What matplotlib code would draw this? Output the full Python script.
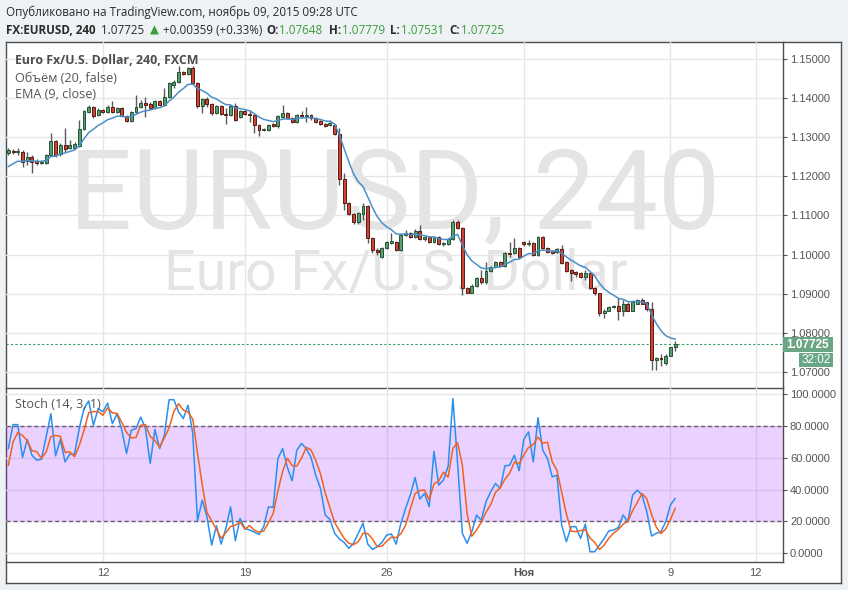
import numpy as np
import pandas as pd
import matplotlib
matplotlib.use("Agg")
import matplotlib.pyplot as plt
from matplotlib.patches import Rectangle

plt.rcParams['font.family'] = ['Liberation Sans', 'DejaVu Sans']

W, H = 848, 590

# 4h candles, FX:EURUSD
opens = [1.1259, 1.1264, 1.1262, 1.1262, 1.1239, 1.1249, 1.1239, 1.1234, 1.1234, 1.1254,
         1.1290, 1.1257, 1.1280, 1.1272, 1.1272, 1.1277, 1.1321, 1.1364, 1.1377, 1.1357,
         1.1369, 1.1364, 1.1377, 1.1364, 1.1375, 1.1354, 1.1341, 1.1364, 1.1377, 1.1387,
         1.1385, 1.1375, 1.1392, 1.1382, 1.1403, 1.1433, 1.1441, 1.1467, 1.1462, 1.1477,
         1.1439, 1.1380, 1.1398, 1.1385, 1.1362, 1.1380, 1.1359, 1.1357, 1.1380, 1.1351,
         1.1367, 1.1359, 1.1357, 1.1331, 1.1318, 1.1318, 1.1334, 1.1328, 1.1351, 1.1362,
         1.1349, 1.1339, 1.1357, 1.1354, 1.1357, 1.1349, 1.1341, 1.1334, 1.1331, 1.1331,
         1.1308, 1.1193, 1.1131, 1.1103, 1.1083, 1.1103, 1.1124, 1.1042, 1.1011, 1.0993,
         1.1016, 1.1029, 1.1031, 1.1011, 1.1049, 1.1054, 1.1044, 1.1060, 1.1039, 1.1044,
         1.1031, 1.1044, 1.1026, 1.1026, 1.1039, 1.1083, 1.1067, 1.0914, 1.0903, 1.0919,
         1.0939, 1.0929, 1.0957, 1.0968, 1.0980, 1.0970, 1.1003, 1.1003, 1.1016, 1.1031,
         1.1026, 1.1029, 1.0998, 1.1044, 1.1016, 1.1008, 1.1006, 1.1014, 1.0980, 1.0960,
         1.0955, 1.0952, 1.0942, 1.0952, 1.0914, 1.0901, 1.0850, 1.0857, 1.0865, 1.0868,
         1.0857, 1.0875, 1.0857, 1.0875, 1.0883, 1.0878, 1.0860, 1.0730, 1.0735, 1.0722,
         1.0742, 1.07648]
highs = [1.1272, 1.1270, 1.1272, 1.1267, 1.1262, 1.1254, 1.1244, 1.1241, 1.1257, 1.1311,
         1.1293, 1.1285, 1.1323, 1.1293, 1.1287, 1.1344, 1.1369, 1.1382, 1.1380, 1.1375,
         1.1372, 1.1382, 1.1392, 1.1377, 1.1377, 1.1357, 1.1367, 1.1408, 1.1395, 1.1403,
         1.1390, 1.1395, 1.1395, 1.1426, 1.1441, 1.1446, 1.1482, 1.1469, 1.1479, 1.1482,
         1.1441, 1.1400, 1.1403, 1.1387, 1.1382, 1.1382, 1.1375, 1.1382, 1.1387, 1.1369,
         1.1369, 1.1369, 1.1359, 1.1334, 1.1323, 1.1334, 1.1336, 1.1357, 1.1382, 1.1364,
         1.1351, 1.1359, 1.1367, 1.1377, 1.1359, 1.1351, 1.1344, 1.1336, 1.1344, 1.1334,
         1.1323, 1.1208, 1.1134, 1.1106, 1.1108, 1.1131, 1.1126, 1.1044, 1.1016, 1.1019,
         1.1034, 1.1054, 1.1034, 1.1052, 1.1062, 1.1057, 1.1065, 1.1075, 1.1047, 1.1047,
         1.1047, 1.1047, 1.1031, 1.1042, 1.1088, 1.1088, 1.1070, 1.0916, 1.0924, 1.0942,
         1.0960, 1.0980, 1.0970, 1.0983, 1.0983, 1.1006, 1.1031, 1.1042, 1.1019, 1.1034,
         1.1037, 1.1031, 1.1047, 1.1047, 1.1019, 1.1011, 1.1016, 1.1024, 1.0983, 1.0962,
         1.0957, 1.0955, 1.0960, 1.0955, 1.0916, 1.0903, 1.0860, 1.0868, 1.0870, 1.0888,
         1.0883, 1.0880, 1.0883, 1.0886, 1.0888, 1.0880, 1.0880, 1.0737, 1.0747, 1.0745,
         1.0765, 1.07779]
lows = [1.1254, 1.1257, 1.1254, 1.1223, 1.1229, 1.1208, 1.1229, 1.1231, 1.1231, 1.1252,
        1.1249, 1.1252, 1.1262, 1.1270, 1.1270, 1.1275, 1.1318, 1.1362, 1.1349, 1.1354,
        1.1362, 1.1362, 1.1362, 1.1362, 1.1351, 1.1339, 1.1339, 1.1362, 1.1375, 1.1351,
        1.1372, 1.1372, 1.1380, 1.1380, 1.1400, 1.1426, 1.1439, 1.1459, 1.1459, 1.1436,
        1.1375, 1.1362, 1.1377, 1.1357, 1.1359, 1.1357, 1.1334, 1.1354, 1.1341, 1.1349,
        1.1357, 1.1339, 1.1311, 1.1303, 1.1316, 1.1316, 1.1326, 1.1323, 1.1349, 1.1346,
        1.1336, 1.1336, 1.1351, 1.1339, 1.1344, 1.1336, 1.1331, 1.1326, 1.1328, 1.1305,
        1.1177, 1.1113, 1.1101, 1.1078, 1.1078, 1.1088, 1.1029, 1.1003, 1.0998, 1.0991,
        1.1014, 1.1026, 1.1008, 1.1008, 1.1047, 1.1042, 1.1042, 1.1037, 1.1034, 1.1029,
        1.1029, 1.1024, 1.1021, 1.1024, 1.1037, 1.1065, 1.0896, 1.0901, 1.0901, 1.0916,
        1.0924, 1.0926, 1.0955, 1.0965, 1.0968, 1.0968, 1.0993, 1.1001, 1.0991, 1.1021,
        1.1021, 1.0996, 1.0996, 1.1014, 1.1003, 1.1001, 1.1003, 1.0975, 1.0955, 1.0932,
        1.0944, 1.0939, 1.0934, 1.0911, 1.0898, 1.0842, 1.0839, 1.0855, 1.0863, 1.0832,
        1.0842, 1.0855, 1.0855, 1.0873, 1.0873, 1.0857, 1.0706, 1.0704, 1.0714, 1.0719,
        1.0740, 1.07531]
closes = [1.1267, 1.1262, 1.1264, 1.1236, 1.1249, 1.1236, 1.1234, 1.1236, 1.1254, 1.1290,
          1.1254, 1.1280, 1.1270, 1.1280, 1.1282, 1.1321, 1.1367, 1.1377, 1.1354, 1.1369,
          1.1364, 1.1377, 1.1364, 1.1375, 1.1354, 1.1341, 1.1364, 1.1377, 1.1387, 1.1382,
          1.1375, 1.1392, 1.1382, 1.1403, 1.1439, 1.1441, 1.1467, 1.1462, 1.1477, 1.1439,
          1.1380, 1.1398, 1.1385, 1.1362, 1.1380, 1.1359, 1.1357, 1.1380, 1.1344, 1.1367,
          1.1359, 1.1357, 1.1331, 1.1318, 1.1321, 1.1331, 1.1328, 1.1354, 1.1362, 1.1349,
          1.1339, 1.1357, 1.1354, 1.1357, 1.1349, 1.1339, 1.1334, 1.1328, 1.1336, 1.1308,
          1.1193, 1.1131, 1.1103, 1.1083, 1.1106, 1.1124, 1.1042, 1.1011, 1.1006, 1.1016,
          1.1031, 1.1034, 1.1011, 1.1049, 1.1054, 1.1044, 1.1060, 1.1039, 1.1044, 1.1031,
          1.1044, 1.1026, 1.1029, 1.1039, 1.1083, 1.1067, 1.0914, 1.0903, 1.0921, 1.0939,
          1.0929, 1.0957, 1.0968, 1.0980, 1.0970, 1.1003, 1.1001, 1.1016, 1.0993, 1.1026,
          1.1029, 1.0998, 1.1044, 1.1016, 1.1006, 1.1003, 1.1014, 1.0978, 1.0957, 1.0952,
          1.0950, 1.0942, 1.0952, 1.0914, 1.0901, 1.0850, 1.0857, 1.0865, 1.0868, 1.0857,
          1.0875, 1.0857, 1.0878, 1.0883, 1.0875, 1.0860, 1.0730, 1.0735, 1.0732, 1.0742,
          1.0763, 1.07725]
ema_start = 1.1225   # EMA(9) value at the first visible bar

# Stoch %K (blue), %D starts (orange)
stoch_k = [65.8, 80.9, 80.9, 60.2, 71.5, 61.6, 58.5, 59.1, 73.2, 87.8,
           61.2, 71.5, 57.4, 62.3, 62.3, 78.4, 91.0, 95.8, 80.5, 91.0,
           88.9, 94.5, 81.5, 87.8, 77.4, 62.7, 77.4, 78.4, 85.7, 78.4,
           56.4, 77.8, 65.8, 74.2, 96.6, 96.6, 88.9, 84.7, 93.1, 75.3,
           20.3, 33.3, 22.8, 5.0, 17.2, 5.6, 15.5, 29.1, 7.8, 21.8,
           15.5, 14.5, 13.2, 11.7, 16.6, 29.1, 28.7, 59.5, 65.8, 54.0,
           45.5, 64.8, 69.0, 65.8, 60.2, 49.0, 40.7, 23.9, 21.2, 12.4,
           8.8, 6.7, 2.9, 6.1, 12.4, 18.7, 5.6, 2.3, 4.0, 6.7,
           11.3, 12.0, 5.6, 18.7, 28.1, 36.5, 47.6, 34.0, 37.5, 29.1,
           64.1, 42.8, 45.9, 54.7, 97.3, 56.4, 12.4, 6.1, 13.4, 23.9,
           20.7, 32.3, 38.6, 43.8, 40.7, 54.9, 55.3, 61.6, 51.8, 71.7,
           76.3, 57.4, 85.3, 64.8, 59.5, 48.0, 49.0, 17.6, 7.1, 16.6,
           16.6, 9.2, 18.2, 0.8, 0.8, 5.0, 9.2, 14.0, 14.5, 16.1,
           23.9, 19.7, 36.5, 39.6, 36.5, 26.0, 10.7, 12.4, 13.4, 19.7,
           30.2, 34.4]
stoch_d_start = [55.3, 70.0]

tick_pos = [20, 50, 80, 109, 140, 158]
tick_lab = ["12", "19", "26", "Ноя", "9", "12"]
price_ticks = [1.07, 1.08, 1.09, 1.10, 1.11, 1.12, 1.13, 1.14, 1.15]
stoch_ticks = [0, 20, 40, 60, 80, 100]
last_price = 1.07725
countdown = "32:02"

o = np.array(opens); h = np.array(highs); l = np.array(lows); c = np.array(closes)
x = np.arange(len(c))

ema = np.zeros(len(c))
ema[0] = ema_start
a = 2 / 10
for i in range(1, len(c)):
    ema[i] = a * c[i] + (1 - a) * ema[i - 1]

k = pd.Series(stoch_k)
d = k.rolling(3).mean().values
d[0], d[1] = stoch_d_start

def fx(px): return px / W
def fy(py): return 1 - py / H

fig = plt.figure(figsize=(W / 100, H / 100), dpi=100)
fig.patch.set_facecolor('#eef2f5')
rend = fig.canvas.get_renderer()

def width_px(t):
    return t.get_window_extent(rend).width

def fit(t, target):
    # scale a text's font size so that it spans target pixels
    t.set_fontsize(t.get_fontsize() * target / width_px(t))
    return t.get_fontsize()

frame = fig.add_axes([fx(6), fy(583), (841 - 6) / W, (583 - 42) / H])
frame.set_facecolor('white')
frame.set_xticks([]); frame.set_yticks([])
for s in frame.spines.values():
    s.set_color('#4d4d4d'); s.set_linewidth(1)

ax1 = fig.add_axes([fx(6), fy(388), 777 / W, 346 / H])
ax2 = fig.add_axes([fx(6), fy(562), 777 / W, 174 / H])
gray = '#555555'
for ax in (ax1, ax2):
    ax.set_facecolor('none')
    ax.set_xlim(-0.49, 163.8)
    ax.set_axisbelow(True)
    ax.grid(True, color='#e6e6e6', lw=1)
    for s in ('left', 'top'):
        ax.spines[s].set_visible(False)
    for s in ('right', 'bottom'):
        ax.spines[s].set_color('#4d4d4d'); ax.spines[s].set_linewidth(1)
    ax.yaxis.tick_right()
    ax.tick_params(axis='y', direction='out', length=3, width=0.8, colors=gray,
                   labelsize=8, pad=2)
    ax.set_xticks(tick_pos)

# price panel
ax1.set_ylim(1.0659, 1.15435)
ax1.set_yticks(price_ticks)
ax1.set_yticklabels(["%.5f" % v for v in price_ticks])
ax1.tick_params(axis='x', length=0, labelbottom=False)

ax1.text(fx(395), fy(229), "EURUSD, 240", transform=fig.transFigure, ha='center',
         va='baseline', fontsize=80, family='Roboto', color='#e4e4e4', zorder=0.2)
ax1.text(fx(396), fy(290), "Euro Fx/U.S. Dollar", transform=fig.transFigure, ha='center',
         va='baseline', fontsize=40, family='Roboto', color='#e4e4e4', zorder=0.2)

up = c >= o
body_lo = np.minimum(o, c)
body_h = np.maximum(np.abs(c - o), 0.00006)
fill = np.where(up, '#5a9e6f', '#cc4433')
edge = np.where(up, '#225437', '#5b1a13')
ax1.vlines(x, l, h, color='#5a5a5a', lw=1, zorder=3)
ax1.bar(x, body_h, bottom=body_lo, width=0.62, color=fill, edgecolor=edge,
        linewidth=0.7, zorder=4)
ax1.plot(x, ema, color='#4a90c8', lw=1.1, zorder=5)
ax1.axhline(last_price, color='#2e9a5e', ls=(0, (2, 2)), lw=0.8, zorder=2)

t = ax1.text(fx(15), fy(61), "Euro Fx/U.S. Dollar, 240, FXCM", transform=fig.transFigure,
             va='center', fontsize=9, fontweight='bold', family='Open Sans',
             color='#4d4d4d', zorder=6)
fit(t, 184)
t = ax1.text(fx(15), fy(78), "Объём (20, false)", transform=fig.transFigure,
             va='center', fontsize=9, family='Open Sans', color='#555555', zorder=6)
leg_size = fit(t, 102)
ax1.text(fx(15), fy(95), "EMA (9, close)", transform=fig.transFigure,
         va='center', fontsize=leg_size, family='Open Sans', color='#555555', zorder=6)

# stoch panel
ax2.set_ylim(-5.67, 103.97)
ax2.set_yticks(stoch_ticks)
ax2.set_yticklabels(["%.4f" % v for v in stoch_ticks])
ax2.axhspan(20, 80, facecolor=(0.6, 0.1, 1.0, 0.2), edgecolor='none', zorder=1)
for lvl in (20, 80):
    ax2.axhline(lvl, color='#6a5a78', ls=(0, (3, 2)), lw=1, zorder=2)
ax2.plot(x, k, color='#2a8fef', lw=1.1, zorder=4)
ax2.plot(x, d, color='#f0621e', lw=1.1, zorder=5)
ax2.set_xticklabels(tick_lab)
ax2.tick_params(axis='x', length=0, colors=gray, labelsize=8, pad=4)
for tl in ax2.get_xticklabels():
    if tl.get_text() == "Ноя":
        tl.set_fontweight('bold')
ax2.text(fx(15), fy(405), "Stoch (14, 3, 1)", transform=fig.transFigure,
         va='center', fontsize=leg_size, family='Open Sans', color='#555555', zorder=6)

# last price and countdown labels
fig.patches.append(Rectangle((fx(783), fy(352)), 50 / W, 15 / H, transform=fig.transFigure,
                             facecolor='#6aa584', edgecolor='none', zorder=5))
fig.patches.append(Rectangle((fx(799), fy(367)), 34 / W, 14 / H, transform=fig.transFigure,
                             facecolor='#6aa584', edgecolor='none', zorder=5))
fig.text(fx(808), fy(344.5), "%.5f" % last_price, ha='center', va='center',
         color='white', fontsize=8.5, fontweight='bold', zorder=6)
fig.text(fx(816), fy(360), countdown, ha='center', va='center',
         color='white', fontsize=8.5, zorder=6)

# header
dark = '#2a2a2a'
green = '#3a9e3a'
t = fig.text(fx(6), fy(12.5), "Опубликовано на TradingView.com, ноябрь 09, 2015 09:28 UTC",
             va='center', fontsize=9, family='Open Sans', color=dark)
fit(t, 351)

# second header line: pieces placed one after another, gap after each piece in px
parts = [("FX:EURUSD, 240", 'bold', dark, 6), ("1.07725", 'normal', dark, 5),
         ("▲", 'normal', green, 4), ("+0.00359 (+0.33%)", 'normal', dark, 4),
         ("O:", 'bold', dark, 1), ("1.07648", 'normal', green, 6),
         ("H:", 'bold', dark, 1), ("1.07779", 'normal', green, 5),
         ("L:", 'bold', dark, 1), ("1.07531", 'normal', green, 6),
         ("C:", 'bold', dark, 1), ("1.07725", 'normal', green, 0)]
texts = []
for txt, wt, col, gap in parts:
    fam = 'DejaVu Sans' if txt == "▲" else 'Open Sans'
    texts.append(fig.text(0, fy(30.5), txt, va='center', fontsize=9, fontweight=wt,
                          family=fam, color=col))
gaps = sum(p[3] for p in parts)
total = sum(width_px(tt) for tt in texts)
scale = (502 - 6 - gaps) / total
for tt in texts:
    tt.set_fontsize(tt.get_fontsize() * scale)
xpos = 6
for tt, p in zip(texts, parts):
    tt.set_x(fx(xpos))
    xpos += width_px(tt) + p[3]

fig.savefig("out.png", dpi=100, facecolor=fig.get_facecolor())
